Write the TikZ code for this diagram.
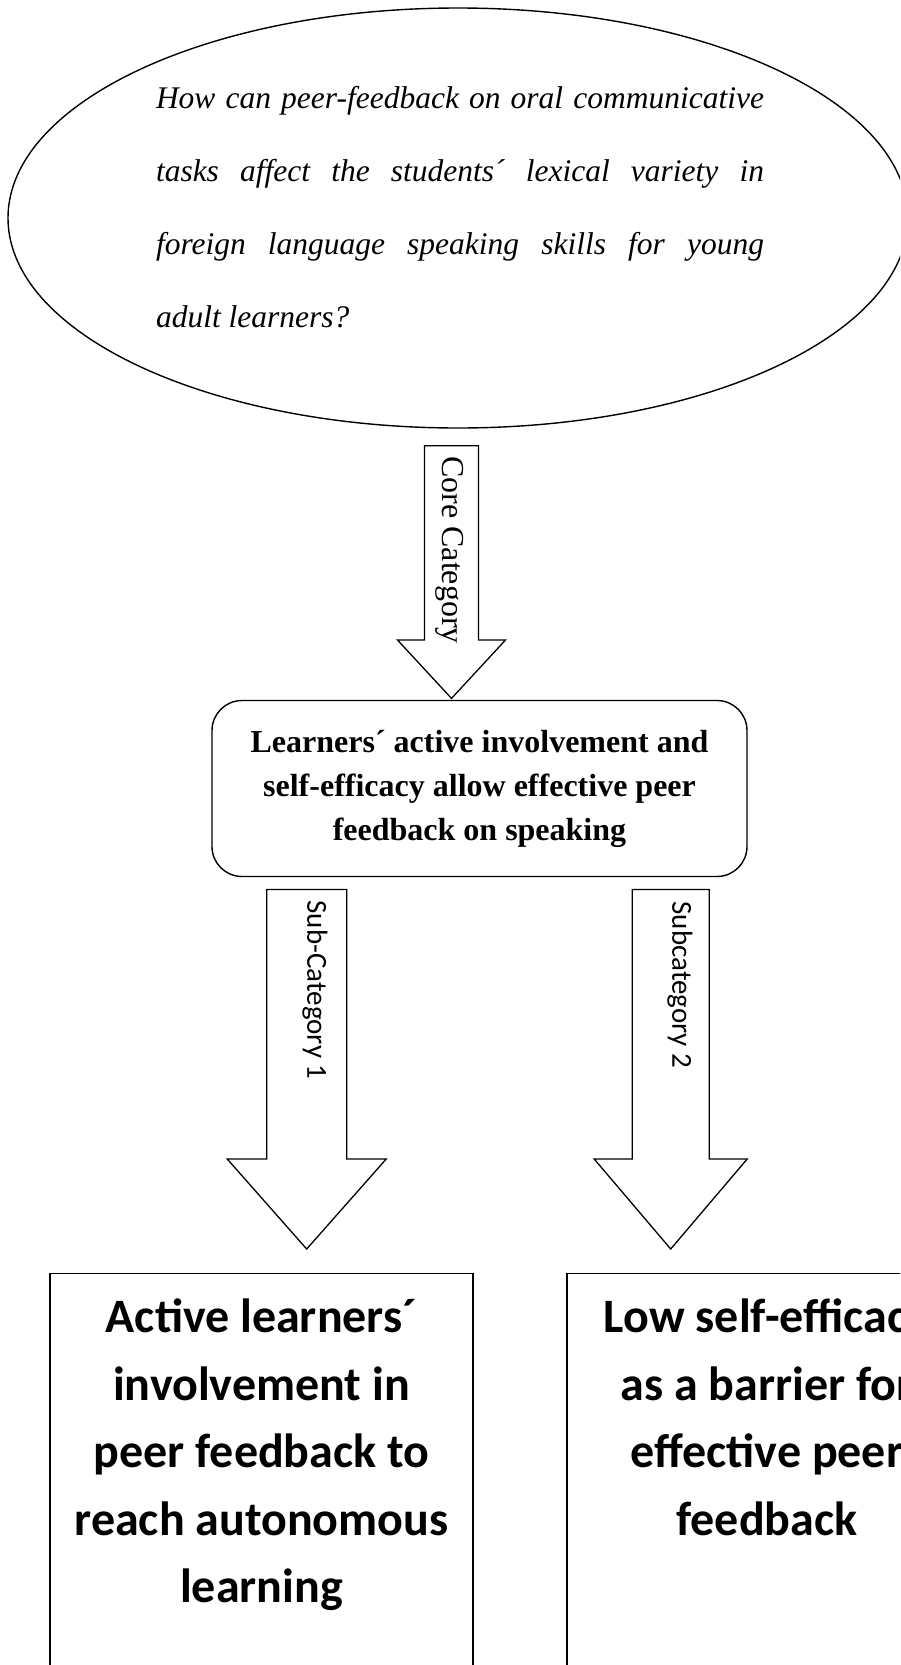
\documentclass[tikz,border=0pt]{standalone}
\usepackage{fontspec}
\setmainfont{Liberation Serif}
\newfontfamily\calibrifont{Carlito}
\usetikzlibrary{calc,shapes.geometric}
\tikzset{
  question/.style={draw, ellipse, line width=1.4pt, minimum width=900pt, minimum height=420pt},
  qtext/.style={text width=608pt, align=justify, inner sep=0pt, font=\itshape\fontsize{31.5}{73}\selectfont},
  corebox/.style={draw, rounded corners=30pt, line width=1.4pt, minimum width=535pt, minimum height=176pt, align=center, font=\bfseries\fontsize{32}{44}\selectfont},
  subbox/.style={draw, line width=1.4pt, anchor=north, align=center, inner xsep=0pt, inner ysep=26pt, text depth=420pt, font=\calibrifont\bfseries\fontsize{48}{67.5}\selectfont},
  fatarrow/.style={draw, line width=1.3pt, fill=white},
  arrowlbl/.style={rotate=-90, inner sep=0pt},
}

\begin{document}
\begin{tikzpicture}[x=1pt, y=-1pt]
  \clip (0,0) rectangle (900,1665);
  \fill[white] (0,0) rectangle (900,1665);
  % research question
  \node[question] (rq) at (458,218) {};
  \node[qtext] (rqtext) at (460,207) {How can peer-feedback on oral communicative\linebreak
    tasks affect the students´ lexical variety in\linebreak
    foreign language speaking skills for young\linebreak
    adult learners?};
  % core category
  \node[corebox] (core) at (479.5,788.5) {Learners´ active involvement and\\self-efficacy allow effective peer\\feedback on speaking};
  % subcategories
  \node[subbox, minimum width=423pt] (sub1box) at (261.5,1272.5) {Active learners´\\involvement in\\peer feedback to\\reach autonomous\\learning};
  \node[subbox, minimum width=400pt] (sub2box) at (767,1272.5) {Low self-efficacy\\as a barrier for\\effective peer\\feedback};
  % block arrows
  \foreach \n/\cx/\ty/\hy/\ey/\sw/\hw in {core/451.5/445.7/640/698.4/27/54,
      sub1/306.7/889.4/1159/1249/40/79.5,
      sub2/670.7/889.4/1159/1249/38.5/76.5}
  {
    \coordinate (\n-top) at (\cx,\ty);
    \coordinate (\n-tip) at (\cx,\ey);
    \draw[fatarrow] ($(\n-top)+(-\sw,0)$) -- ($(\n-top)+(\sw,0)$) -- (\cx+\sw,\hy) -- (\cx+\hw,\hy)
      -- (\n-tip) -- (\cx-\hw,\hy) -- (\cx-\sw,\hy) -- cycle;
  }
  \node[arrowlbl, font=\fontsize{32}{32}\selectfont] (corelbl) at (450,550) {Core Category};
  \node[arrowlbl, font=\calibrifont\fontsize{29}{29}\selectfont] (sub1lbl) at (315,990) {Sub-Category 1};
  \node[arrowlbl, font=\calibrifont\fontsize{29}{29}\selectfont] (sub2lbl) at (680,985) {Subcategory 2};
\end{tikzpicture}
\end{document}
